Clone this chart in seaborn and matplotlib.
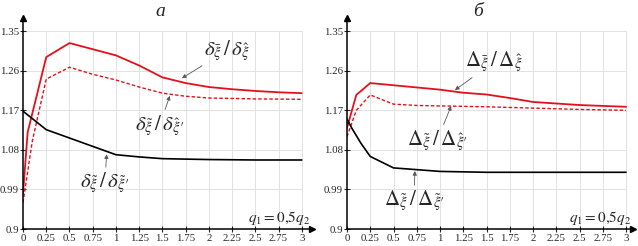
import numpy as np
import pandas as pd
import seaborn as sns
import matplotlib.pyplot as plt

""" data read from the picture """
# panel a
x_a_solid = [0, 0.05, 0.25, 0.5, 0.75, 1, 1.25, 1.5, 1.75, 2, 2.25, 2.5, 2.75, 3]
y_a_solid = [0.98, 1.12, 1.291, 1.323, 1.309, 1.295, 1.272, 1.245, 1.232, 1.223, 1.218, 1.214, 1.211, 1.209]
x_a_dash = [0, 0.1, 0.25, 0.5, 0.75, 1, 1.25, 1.5, 1.75, 2, 2.5, 3]
y_a_dash = [0.96, 1.10, 1.241, 1.268, 1.252, 1.239, 1.223, 1.209, 1.202, 1.198, 1.196, 1.195]
x_a_black = [0, 0.25, 0.5, 0.75, 1, 1.25, 1.5, 2, 2.5, 3]
y_a_black = [1.168, 1.126, 1.107, 1.088, 1.069, 1.064, 1.060, 1.058, 1.057, 1.057]

# panel b
x_b_solid = [0, 0.1, 0.25, 0.5, 0.75, 1, 1.25, 1.5, 1.75, 2, 2.5, 3]
y_b_solid = [1.13, 1.205, 1.232, 1.227, 1.222, 1.217, 1.210, 1.206, 1.198, 1.189, 1.182, 1.178]
x_b_dash = [0, 0.1, 0.25, 0.5, 0.75, 1, 1.5, 2, 2.5, 3]
y_b_dash = [1.11, 1.17, 1.205, 1.184, 1.181, 1.180, 1.178, 1.175, 1.172, 1.170]
x_b_black = [0, 0.05, 0.15, 0.25, 0.5, 0.75, 1, 1.25, 1.5, 2, 3]
y_b_black = [1.15, 1.13, 1.095, 1.065, 1.039, 1.035, 1.031, 1.030, 1.029, 1.029, 1.029]

x_ticks = [0, 0.25, 0.5, 0.75, 1, 1.25, 1.5, 1.75, 2, 2.25, 2.5, 2.75, 3]
x_ticklabels = ['0', '0.25', '0.5', '0.75', '1', '1.25', '1.5', '1.75', '2', '2.25', '2.5', '2.75', '3']
y_ticks = [0.9, 0.99, 1.08, 1.17, 1.26, 1.35]
y_ticklabels = ['0.9', '0.99', '1.08', '1.17', '1.26', '1.35']

titles = ['а', 'б']
cond_label = r'$q_1=0{,}5q_2$'
labels_a = [r'$\delta_{\bar{\xi}}\,/\,\delta_{\hat{\xi}}$',
            r'$\delta_{\tilde{\xi}}\,/\,\delta_{\hat{\xi}\prime}$',
            r'$\delta_{\tilde{\xi}}\,/\,\delta_{\tilde{\xi}\prime}$']
labels_b = [r'$\Delta_{\bar{\xi}}\,/\,\Delta_{\hat{\xi}}$',
            r'$\Delta_{\tilde{\xi}}\,/\,\Delta_{\hat{\xi}\prime}$',
            r'$\Delta_{\tilde{\xi}}\,/\,\Delta_{\tilde{\xi}\prime}$']

""" style """
sns.set_style('white')
plt.rcParams['font.family'] = ['Liberation Serif', 'DejaVu Serif']
plt.rcParams['mathtext.fontset'] = 'stix'

RED = '#e3101c'
LabelSize = 15

fig = plt.figure(figsize=(6.38, 2.46), dpi=100)
ax_a = fig.add_axes([23/638, 1-229/246, (312-23)/638, (229-18)/246])
ax_b = fig.add_axes([347/638, 1-229/246, (633-347)/638, (229-18)/246])


def DrawPanel(ax, xs, ys, xd, yd, xk, yk, xmax):
	for xv in x_ticks[1:]:
		ax.plot([xv, xv], [0.9, 1.35], color='#e2e2e2', lw=0.7, zorder=0)
	for yv in y_ticks[1:]:
		ax.plot([0, 3], [yv, yv], color='#e2e2e2', lw=0.7, zorder=0)

	sns.lineplot(x=xs, y=ys, ax=ax, color=RED, lw=1.3)
	sns.lineplot(x=xd, y=yd, ax=ax, color=RED, lw=1.0, linestyle=(0, (2.5, 1.5)))
	sns.lineplot(x=xk, y=yk, ax=ax, color='black', lw=1.2)

	ax.set_xlim(0, xmax)
	ax.set_ylim(0.9, 1.38)
	for s in ['top', 'right']:
		ax.spines[s].set_visible(False)
	for s in ['left', 'bottom']:
		ax.spines[s].set_color('black')
		ax.spines[s].set_linewidth(1.1)
	ax.set_xticks(x_ticks)
	ax.set_xticklabels(x_ticklabels)
	ax.set_yticks(y_ticks)
	ax.set_yticklabels(y_ticklabels)
	ax.tick_params(direction='inout', length=5, width=0.8, labelsize=7.8, pad=1,
				   bottom=True, left=True)
	ax.tick_params(axis='y', pad=0.3)
	ax.set_xlabel('')
	ax.set_ylabel('')
	ax.plot(1, 0, '>k', ms=4, transform=ax.transAxes, clip_on=False)
	ax.plot(0, 1, '^k', ms=4, transform=ax.transAxes, clip_on=False)


DrawPanel(ax_a, x_a_solid, y_a_solid, x_a_dash, y_a_dash, x_a_black, y_a_black, 3.11)
DrawPanel(ax_b, x_b_solid, y_b_solid, x_b_dash, y_b_dash, x_b_black, y_b_black, 3.075)

arrow = dict(arrowstyle='-|>', color='0.35', lw=0.6, mutation_scale=6, shrinkA=0, shrinkB=0)

# panel a annotations
ax_a.annotate(labels_a[0], xy=(1.71, 1.243), xytext=(2.20, 1.307), fontsize=LabelSize,
			  ha='center', va='center', arrowprops=arrow)
ax_a.annotate(labels_a[1], xy=(1.58, 1.203), xytext=(1.47, 1.136), fontsize=LabelSize,
			  ha='center', va='center', arrowprops=arrow)
ax_a.annotate(labels_a[2], xy=(0.90, 1.070), xytext=(0.88, 1.005), fontsize=LabelSize,
			  ha='center', va='center', arrowprops=arrow)

# panel b annotations
ax_b.annotate(labels_b[0], xy=(1.16, 1.216), xytext=(1.58, 1.280), fontsize=LabelSize,
			  ha='center', va='center', arrowprops=arrow)
ax_b.annotate(labels_b[1], xy=(1.12, 1.180), xytext=(0.97, 1.102), fontsize=LabelSize,
			  ha='center', va='center', arrowprops=arrow)
ax_b.annotate(labels_b[2], xy=(0.73, 1.032), xytext=(0.72, 0.964), fontsize=LabelSize,
			  ha='center', va='center', arrowprops=arrow)

ax_a.text(2.76, 0.926, cond_label, fontsize=11, ha='center', va='center')
ax_b.text(2.72, 0.926, cond_label, fontsize=11, ha='center', va='center')

fig.text(160/638, 1-11/246, titles[0], fontsize=14, style='italic', ha='center', va='center')
fig.text(478/638, 1-11/246, titles[1], fontsize=14, style='italic', ha='center', va='center')

plt.savefig('out.png', dpi=100)
